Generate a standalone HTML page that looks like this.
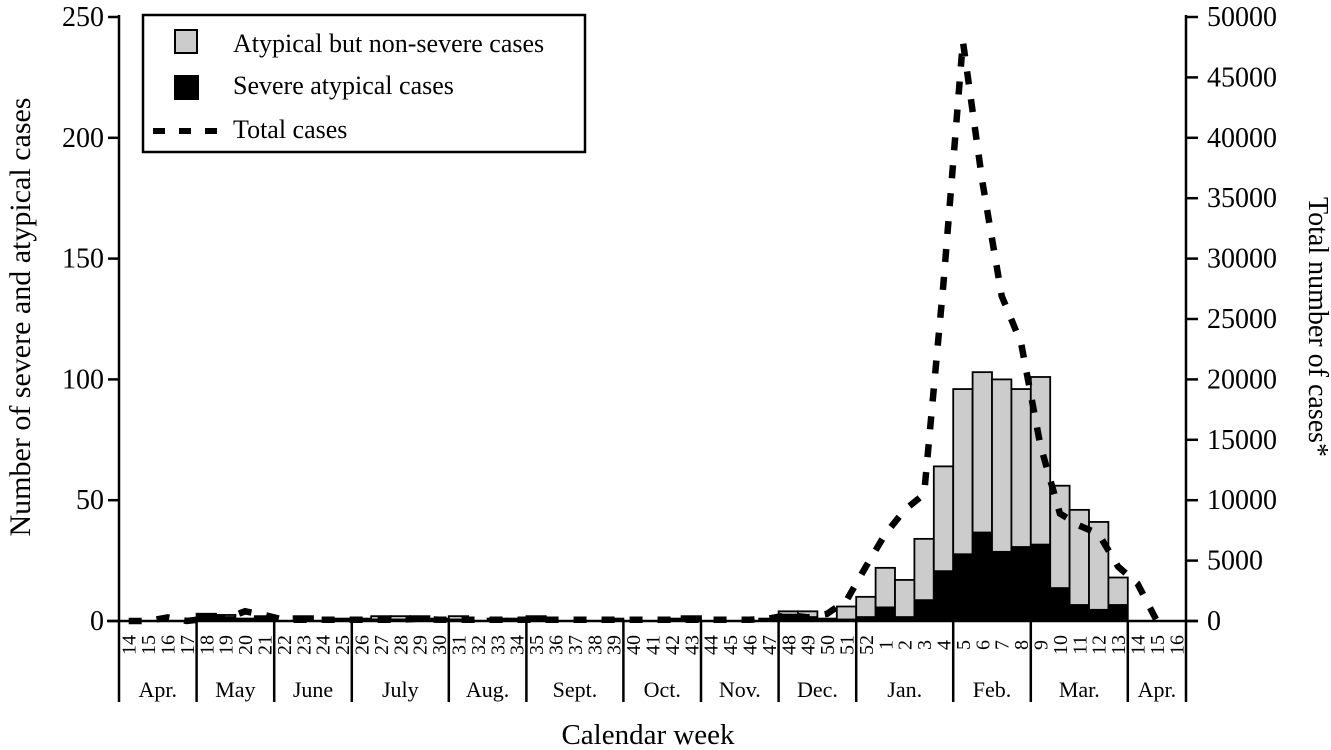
<!DOCTYPE html>
<html><head><meta charset="utf-8"><style>
html,body{margin:0;padding:0;background:#fff;}
svg{display:block;font-family:"Liberation Serif",serif;}
</style></head><body>
<svg id="chart" width="1331" height="750" viewBox="0 0 1331 750" xmlns="http://www.w3.org/2000/svg">
<g id="bars"></g>
<g id="line"></g>
<g id="axes"></g>
<g>
<rect x="143" y="15" width="442" height="137" fill="#fff" stroke="#000" stroke-width="2.5"/>
<rect x="175" y="30" width="22" height="23" fill="#ccc" stroke="#000" stroke-width="2"/>
<text x="233" y="52" font-size="26">Atypical but non-severe cases</text>
<rect x="174" y="75" width="25" height="25" fill="#000"/>
<text x="233" y="94" font-size="26">Severe atypical cases</text>
<line x1="153" y1="131" x2="221" y2="131" stroke="#000" stroke-width="6" stroke-dasharray="12 14"/>
<text x="233" y="138" font-size="26">Total cases</text>
</g>
<text x="0" y="0" font-size="30" text-anchor="middle" transform="translate(30,317) rotate(-90)">Number of severe and atypical cases</text>
<text x="0" y="0" font-size="28" text-anchor="middle" transform="translate(1309,327) rotate(90)">Total number of cases*</text>
<text x="648" y="744" font-size="29" text-anchor="middle">Calendar week</text>
</svg>
<script>
const weeks=[14,15,16,17,18,19,20,21,22,23,24,25,26,27,28,29,30,31,32,33,34,35,36,37,38,39,40,41,42,43,44,45,46,47,48,49,50,51,52,1,2,3,4,5,6,7,8,9,10,11,12,13,14,15,16];
const totalAtypical=[0,0,0,0,3,2.5,1,2,0,2,0,1,1,2,2,2,1,2,0,1,1,2,0,0,0,1,0,0,1,2,0,0,0,1,4,4,1,6,10,22,17,34,64,96,103,100,96,101,56,46,41,18,0,0,0];
const severe=[0,0,0,0,3,2,1,2,0,2,0,1,1,1,1,2,1,1,0,1,1,2,0,0,0,1,0,0,1,2,0,0,0,1,3,2,1,1,2,6,2,9,21,28,37,29,31,32,14,7,5,7,0,0,0];
const totalCases=[0,0,300,0,200,200,800,500,100,100,100,100,100,100,100,200,100,100,100,100,100,100,100,100,100,100,100,100,100,100,100,100,100,200,500,300,600,1700,4500,7200,9200,10500,28000,48000,36400,26900,23000,14500,8900,7900,7200,4500,3100,0,null];
const months=["Apr.","May","June","July","Aug.","Sept.","Oct.","Nov.","Dec.","Jan.","Feb.","Mar.","Apr."];
const monthWeeks=[4,4,4,5,4,5,4,4,4,5,4,5,3];
const leftTicks=[0,50,100,150,200,250];
const rightTicks=[0,5000,10000,15000,20000,25000,30000,35000,40000,45000,50000];

const NS="http://www.w3.org/2000/svg";
const X0=119,WW=19.4,Y0=621,YT=17;
const xs=i=>X0+i*WW;
const yl=v=>Y0-(v/250)*(Y0-YT);
const yr=v=>Y0-(v/50000)*(Y0-YT);
function mk(tag,attrs,parent){const e=document.createElementNS(NS,tag);for(const k in attrs)e.setAttribute(k,attrs[k]);parent.appendChild(e);return e;}
const bars=document.getElementById('bars'),line=document.getElementById('line'),axes=document.getElementById('axes');
weeks.forEach((w,i)=>{
  if(totalAtypical[i]>0){
    const r=mk('rect',{x:xs(i),y:yl(totalAtypical[i]),width:WW,height:yl(0)-yl(totalAtypical[i]),fill:'#ccc',stroke:'#000','stroke-width':1.8},bars);
    
    
  }
  if(severe[i]>0){
    const r=mk('rect',{x:xs(i),y:yl(severe[i]),width:WW,height:yl(0)-yl(severe[i]),fill:'#000'},bars);
    
    
  }
  const t=mk('text',{x:0,y:0,'font-size':20,'text-anchor':'middle',transform:`translate(${xs(i)+WW/2+7},645) rotate(-90)`},axes);
  t.textContent=w;
  
  
});
let pts=[];
totalCases.forEach((v,i)=>{if(v!==null)pts.push((xs(i)+WW/2).toFixed(1)+','+yr(v).toFixed(1));});
const pl=mk('polyline',{points:pts.join(' '),fill:'none',stroke:'#000','stroke-width':6.5,'stroke-dasharray':'13 15'},line);


const XE=X0+55*WW;
const al=mk('line',{x1:X0,y1:YT-2,x2:X0,y2:702,stroke:'#000','stroke-width':2.5},axes);


const ar=mk('line',{x1:XE,y1:YT-2,x2:XE,y2:702,stroke:'#000','stroke-width':2.5},axes);


const ax=mk('line',{x1:X0-12,y1:Y0,x2:XE+12,y2:Y0,stroke:'#000','stroke-width':2.5},axes);


leftTicks.forEach(v=>{
  mk('line',{x1:X0-11,y1:yl(v),x2:X0,y2:yl(v),stroke:'#000','stroke-width':2.5},axes);
  const t=mk('text',{x:104,y:yl(v)+9,'font-size':28,'text-anchor':'end'},axes);
  t.textContent=v;
  
  
});
rightTicks.forEach(v=>{
  mk('line',{x1:XE,y1:yr(v),x2:XE+12,y2:yr(v),stroke:'#000','stroke-width':2.5},axes);
  const t=mk('text',{x:1207,y:yr(v)+9,'font-size':28,'text-anchor':'start'},axes);
  t.textContent=v;
  
  
});
let acc=0;
months.forEach((m,k)=>{
  const start=acc;acc+=monthWeeks[k];
  if(k>0){mk('line',{x1:xs(start),y1:Y0,x2:xs(start),y2:702,stroke:'#000','stroke-width':2.5},axes);}
  const t=mk('text',{x:(xs(start)+xs(acc))/2,y:697,'font-size':22,'text-anchor':'middle'},axes);
  t.textContent=m;
  
  
});
</script>
</body></html>
